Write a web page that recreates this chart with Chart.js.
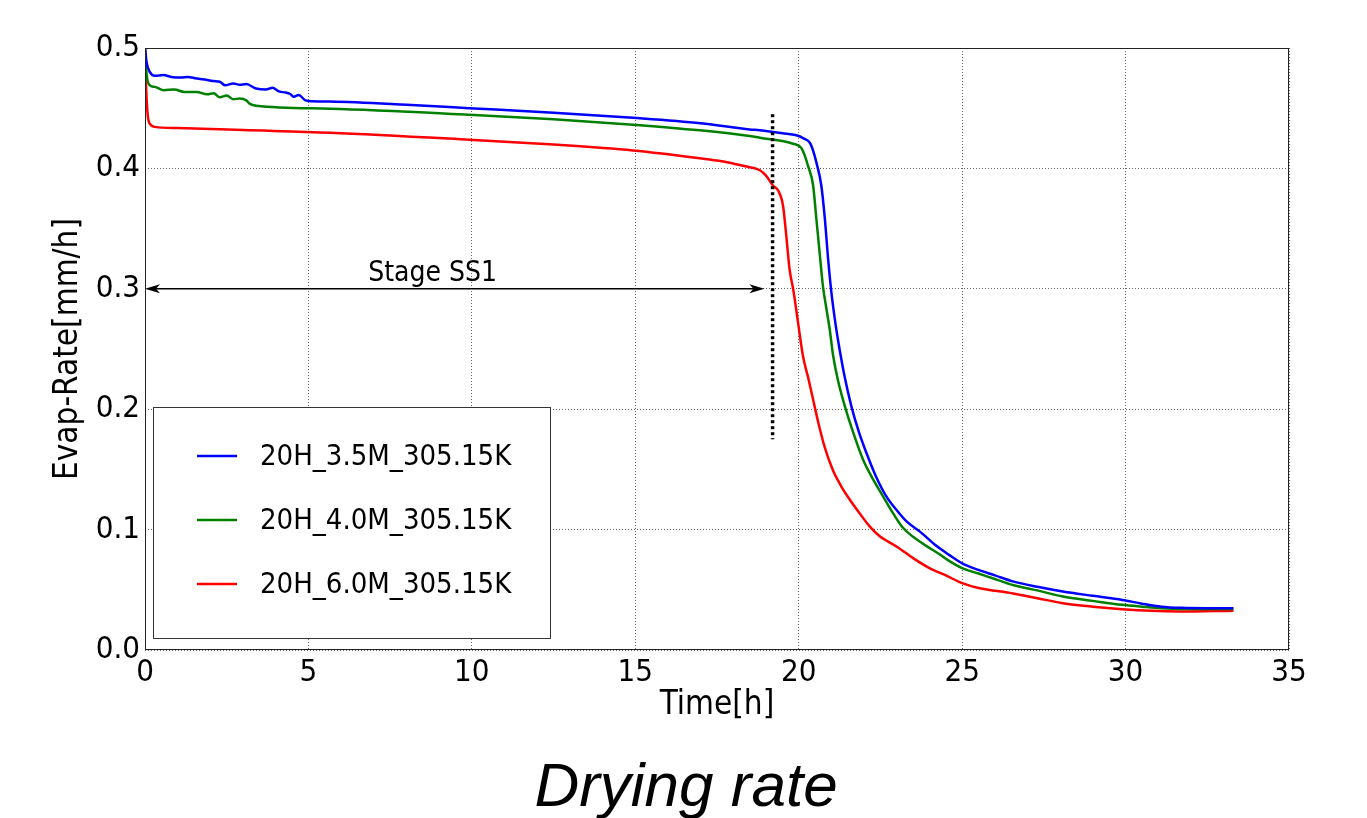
<!DOCTYPE html>
<html>
<head>
<meta charset="utf-8">
<title>Drying rate</title>
<script src="https://cdn.jsdelivr.net/npm/chart.js@4.4.1/dist/chart.umd.min.js"></script>
<style>
	html, body { margin: 0; padding: 0; background: #fff; }
	#wrap { width: 1367px; height: 818px; }
</style>
</head>
<body>
<div id="wrap"><canvas id="chart" width="1367" height="818"></canvas></div>
<script>
// Evaporation rate [mm/h] against time [h], one run per mesh height
const seriesLabels = ['20H_3.5M_305.15K', '20H_4.0M_305.15K', '20H_6.0M_305.15K'];
const seriesColours = ['#0000ff', '#008000', '#ff0000'];

const blueTime = [0, 0.05, 0.15, 0.3, 0.56, 0.8, 1.1, 1.3, 1.58, 1.9, 2.1, 2.29, 2.45, 2.7, 2.9, 3.1, 3.4, 3.7, 3.9, 4.1, 4.3, 4.43, 4.55, 4.7, 4.9, 5.0,
	5.66, 8, 9.92, 12.5, 14.93, 17, 18.5, 18.81, 19.5, 19.93, 20.15, 20.34, 20.45, 20.54, 20.69, 20.8, 20.9, 21.0, 21.13, 21.25, 21.42, 21.61, 21.83,
	22.07, 22.35, 22.68, 23.0, 23.29, 23.7, 24.21, 24.6, 25.0, 25.5, 26.0, 26.55, 27.3, 28.08, 29.0, 29.9, 30.5, 31.1, 31.7, 32.5, 33.3];
const blueRate = [0.5, 0.488, 0.48, 0.477, 0.4775, 0.476, 0.4755, 0.476, 0.4746, 0.4735, 0.4725, 0.472, 0.469, 0.4705, 0.4695, 0.47, 0.4663, 0.4655, 0.467, 0.464, 0.463, 0.462, 0.4596, 0.461, 0.4566, 0.456,
	0.4555, 0.4528, 0.45, 0.4462, 0.442, 0.4375, 0.4324, 0.4316, 0.4292, 0.4275, 0.425, 0.4213, 0.414, 0.405, 0.386, 0.358, 0.3247, 0.297, 0.27, 0.2498, 0.225, 0.2026, 0.182,
	0.1638, 0.145, 0.1276, 0.116, 0.107, 0.0985, 0.0865, 0.079, 0.072, 0.0665, 0.062, 0.057, 0.0525, 0.0486, 0.045, 0.0416, 0.0385, 0.036, 0.035, 0.0347, 0.0347];

const greenTime = [0, 0.05, 0.15, 0.3, 0.56, 0.9, 1.2, 1.58, 1.9, 2.1, 2.29, 2.5, 2.7, 2.9, 3.1, 3.2, 3.4,
	5.66, 9.92, 12.5, 14.93, 16.97, 18.5, 18.81, 19.83, 20.08, 20.18, 20.28, 20.44, 20.54, 20.64, 20.74, 20.85, 20.95, 21.05, 21.2, 21.41, 21.65,
	21.97, 22.25, 22.58, 22.9, 23.19, 23.5, 23.9, 24.31, 24.6, 25.0, 25.5, 26.0, 26.55, 27.3, 28.08, 29.0, 29.9, 30.5, 31.1, 32.2, 33.3];
const greenRate = [0.5, 0.478, 0.469, 0.4677, 0.465, 0.4655, 0.4635, 0.4635, 0.4615, 0.4625, 0.459, 0.4605, 0.4575, 0.458, 0.4565, 0.4538, 0.452,
	0.4496, 0.4446, 0.4408, 0.4363, 0.4316, 0.4269, 0.4255, 0.4205, 0.4169, 0.411, 0.4025, 0.386, 0.358, 0.33, 0.3025, 0.283, 0.266, 0.245, 0.224, 0.2026, 0.182,
	0.158, 0.143, 0.1276, 0.113, 0.1015, 0.094, 0.0865, 0.0795, 0.074, 0.068, 0.0635, 0.059, 0.054, 0.0495, 0.0444, 0.0408, 0.0375, 0.036, 0.0347, 0.034, 0.034];

const redTime = [0, 0.03, 0.08, 0.15, 0.3, 1.0, 3, 5.66, 9.92, 12.5, 14.93, 16.97, 17.5, 18.0, 18.5, 18.81, 19.0, 19.21, 19.37, 19.52, 19.62, 19.72, 19.83, 19.88,
	20.0, 20.13, 20.3, 20.44, 20.6, 20.8, 21.05, 21.3, 21.56, 21.85, 22.17, 22.48, 22.99, 23.5, 24.0, 24.5, 25.0, 25.5, 26.55, 27.3, 28.08, 29.0, 29.9,
	30.8, 31.65, 33.3];
const redRate = [0.5, 0.47, 0.445, 0.437, 0.4345, 0.4335, 0.4318, 0.4296, 0.4238, 0.4198, 0.4149, 0.4085, 0.4065, 0.404, 0.401, 0.3985, 0.394, 0.3858, 0.3817, 0.369, 0.344, 0.3164, 0.2997, 0.291,
	0.268, 0.2442, 0.225, 0.208, 0.1888, 0.168, 0.149, 0.136, 0.125, 0.114, 0.1027, 0.0944, 0.086, 0.0763, 0.068, 0.062, 0.0555, 0.0515, 0.047, 0.043, 0.0389, 0.036, 0.0339,
	0.0325, 0.032, 0.0327];

const xTicks = [0, 5, 10, 15, 20, 25, 30, 35];
const yTicks = [0.0, 0.1, 0.2, 0.3, 0.4, 0.5];

// first drying stage: arrow span, label and the boundary marker
const stageStart = 0;
const stageEnd = 18.95;
const stageLevel = 0.3;
const stageLabel = 'Stage SS1';
const stageLabelTime = 8.8;
const boundaryTime = 19.2;
const boundaryRange = [0.175, 0.445];

const chartTitle = 'Drying rate';

const uiFont = '"DejaVu Sans Condensed", "DejaVu Sans", sans-serif';

function toPoints(times, rates) {
	return times.map(function(t, i) {
		return { x: t, y: rates[i] };
	});
}

const seriesData = [
	toPoints(blueTime, blueRate),
	toPoints(greenTime, greenRate),
	toPoints(redTime, redRate)
];

let extras = {
	id: 'extras',
	afterDraw: function(chart) {
		let ctx = chart.ctx,
			area = chart.chartArea,
			x = chart.scales.x,
			y = chart.scales.y;

		ctx.save();

		// frame round the plot
		ctx.strokeStyle = '#222';
		ctx.lineWidth = 1;
		ctx.strokeRect(area.left + 0.5, area.top + 0.5, area.right - area.left - 1, area.bottom - area.top - 1);

		// boundary marker
		let bx = x.getPixelForValue(boundaryTime);
		ctx.strokeStyle = '#000';
		ctx.lineWidth = 3.5;
		ctx.setLineDash([3, 3]);
		ctx.beginPath();
		ctx.moveTo(bx, y.getPixelForValue(boundaryRange[1]));
		ctx.lineTo(bx, y.getPixelForValue(boundaryRange[0]));
		ctx.stroke();
		ctx.setLineDash([]);

		// double headed arrow
		let ax1 = x.getPixelForValue(stageStart),
			ax2 = x.getPixelForValue(stageEnd),
			ay = y.getPixelForValue(stageLevel);
		ctx.lineWidth = 1.5;
		ctx.beginPath();
		ctx.moveTo(ax1 + 4, ay);
		ctx.lineTo(ax2 - 4, ay);
		ctx.stroke();
		ctx.fillStyle = '#000';
		[[ax1, 1], [ax2, -1]].forEach(function(head) {
			ctx.beginPath();
			ctx.moveTo(head[0], ay);
			ctx.lineTo(head[0] + head[1] * 15, ay - 4.5);
			ctx.lineTo(head[0] + head[1] * 11, ay);
			ctx.lineTo(head[0] + head[1] * 15, ay + 4.5);
			ctx.closePath();
			ctx.fill();
		});

		ctx.font = '28px ' + uiFont;
		ctx.textAlign = 'center';
		ctx.textBaseline = 'alphabetic';
		ctx.fillText(stageLabel, x.getPixelForValue(stageLabelTime), ay - 8);

		// legend box, lower left inside the plot
		let lw = 397, lh = 231,
			lx = area.left + 8,
			ly = area.bottom - 12 - lh;
		ctx.fillStyle = '#fff';
		ctx.fillRect(lx, ly, lw, lh);
		ctx.strokeStyle = '#333';
		ctx.lineWidth = 1;
		ctx.strokeRect(lx + 0.5, ly + 0.5, lw, lh);
		ctx.font = '29px ' + uiFont;
		ctx.textAlign = 'left';
		ctx.textBaseline = 'middle';
		chart.data.datasets.forEach(function(ds, i) {
			let ry = ly + 49 + i * 64;
			ctx.strokeStyle = ds.borderColor;
			ctx.lineWidth = 2.5;
			ctx.beginPath();
			ctx.moveTo(lx + 44, ry);
			ctx.lineTo(lx + 84, ry);
			ctx.stroke();
			ctx.fillStyle = '#000';
			ctx.fillText(ds.label, lx + 107, ry + 1);
		});

		// caption under the chart
		ctx.font = 'italic 62px "Liberation Sans", Arial, sans-serif';
		ctx.textAlign = 'center';
		ctx.textBaseline = 'alphabetic';
		ctx.fillText(chartTitle, (area.left + area.right) / 2 - 31, 806);

		ctx.restore();
	}
};

new Chart(document.getElementById('chart'), {
	type: 'line',
	data: {
		datasets: seriesData.map(function(points, i) {
			return {
				label: seriesLabels[i],
				data: points,
				borderColor: seriesColours[i],
				backgroundColor: seriesColours[i],
				borderWidth: 2.5,
				pointRadius: 0,
				cubicInterpolationMode: 'monotone',
				fill: false
			};
		})
	},
	options: {
		responsive: false,
		animation: false,
		parsing: false,
		layout: {
			padding: { left: 0, right: 78, top: 48, bottom: 93 }
		},
		plugins: {
			legend: { display: false },
			tooltip: { enabled: false }
		},
		scales: {
			x: {
				type: 'linear',
				min: 0,
				max: 35,
				afterBuildTicks: function(scale) {
					scale.ticks = xTicks.map(function(v) { return { value: v }; });
				},
				afterFit: function(scale) {
					scale.height = 75;
				},
				ticks: {
					color: '#000',
					padding: 4,
					maxRotation: 0,
					font: { family: uiFont, size: 31 }
				},
				grid: {
					color: 'rgba(0,0,0,0.6)',
					lineWidth: 1,
					drawTicks: false
				},
				border: { display: false, dash: [1, 2] },
				title: {
					display: true,
					text: 'Time[h]',
					color: '#000',
					padding: { top: 0, bottom: 0 },
					font: { family: uiFont, size: 33 }
				}
			},
			y: {
				type: 'linear',
				min: 0,
				max: 0.5,
				afterBuildTicks: function(scale) {
					scale.ticks = yTicks.map(function(v) { return { value: v }; });
				},
				afterFit: function(scale) {
					scale.width = 145;
				},
				ticks: {
					color: '#000',
					padding: 5,
					callback: function(v) { return v.toFixed(1); },
					font: { family: uiFont, size: 31 }
				},
				grid: {
					color: 'rgba(0,0,0,0.6)',
					lineWidth: 1,
					drawTicks: false
				},
				border: { display: false, dash: [1, 2] },
				title: {
					display: true,
					text: 'Evap-Rate[mm/h]',
					color: '#000',
					padding: { top: 49, bottom: 0 },
					font: { family: uiFont, size: 33 }
				}
			}
		}
	},
	plugins: [extras]
});
</script>
</body>
</html>
